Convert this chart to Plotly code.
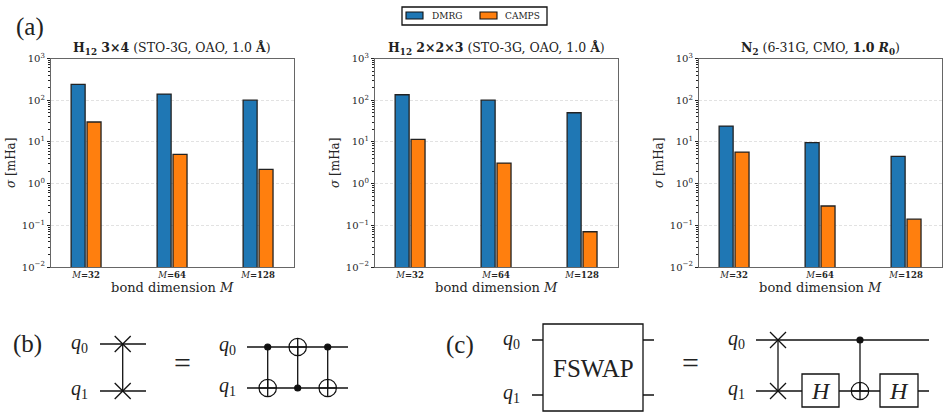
import plotly.graph_objects as go

W, H = 948, 419

bond_labels = ["<i>M</i><b>=32</b>", "<i>M</i><b>=64</b>", "<i>M</i><b>=128</b>"]
dmrg_1 = [240, 140, 100]
camps_1 = [30, 5.0, 2.2]
dmrg_2 = [135, 100, 50]
camps_2 = [11.5, 3.1, 0.07]
dmrg_3 = [24, 9.6, 4.5]
camps_3 = [5.7, 0.29, 0.14]
titles = [
    "<b>H<sub>12</sub> 3×4</b> (STO-3G, OAO, 1.0 <b>Å</b>)",
    "<b>H<sub>12</sub> 2×2×3</b> (STO-3G, OAO, 1.0 <b>Å</b>)",
    "<b>N<sub>2</sub></b> (6-31G, CMO, <b>1.0</b> <b><i>R</i><sub>0</sub></b>)",
]
ytick_vals = [0.01, 0.1, 1, 10, 100, 1000]
ytick_text = ["10<sup>−2</sup>", "10<sup>−1</sup>", "10<sup>0</sup>", "10<sup>1</sup>", "10<sup>2</sup>", "10<sup>3</sup>"]

SERIF = "DejaVu Serif"
CM = "Liberation Serif"
INK = "#262626"
BLUE, ORANGE = "#1f77b4", "#ff7f0e"
panels = [(51, 293.5), (375, 617.5), (699, 941.5)]
TOP, BOTTOM = 58.5, 267

fig = go.Figure()
for i, (d, c) in enumerate([(dmrg_1, camps_1), (dmrg_2, camps_2), (dmrg_3, camps_3)]):
    sx = "" if i == 0 else str(i + 1)
    for name, vals, col in (("DMRG", d, BLUE), ("CAMPS", c, ORANGE)):
        fig.add_trace(go.Bar(
            x=bond_labels, y=vals, name=name, marker=dict(color=col, line=dict(color="#222222", width=1.3)),
            xaxis="x" + sx, yaxis="y" + sx, showlegend=False, offsetgroup=name,
        ))

layout = dict(
    width=W, height=H, margin=dict(l=0, r=0, t=0, b=0, autoexpand=False), paper_bgcolor="white", plot_bgcolor="white",
    barmode="group", bargap=0.63, bargroupgap=0.12, font=dict(family=SERIF, color=INK),
    showlegend=False,
)
for i, (l, r) in enumerate(panels):
    sx = "" if i == 0 else str(i + 1)
    layout["xaxis" + sx] = dict(
        domain=[l / W, r / W], anchor="y" + sx, type="category", range=[-0.408, 2.412],
        showline=True, mirror=True, linecolor="#666666", linewidth=1.3, ticks="",
        tickfont=dict(size=8.5, family=SERIF, color=INK),
        title=dict(text="bond dimension <i>M</i>", font=dict(size=13, family=SERIF, color=INK), standoff=1),
        showgrid=False,
    )
    layout["yaxis" + sx] = dict(
        domain=[1 - BOTTOM / H, 1 - TOP / H], anchor="x" + sx, type="log", range=[-2, 3],
        tickmode="array", tickvals=ytick_vals, ticktext=ytick_text,
        showline=True, mirror=True, linecolor="#666666", linewidth=1.3,
        ticks="outside", ticklen=3, tickcolor="#222222", tickwidth=1,
        tickfont=dict(size=10, family=SERIF, color=INK),
        showgrid=True, gridcolor="#e2e2e2", gridwidth=0.7, griddash="3px,2px", zeroline=False,
        minor=dict(ticks="outside", ticklen=1.5, tickcolor="#222222", tickwidth=0.7, dtick="D1", showgrid=False),
        title=dict(text="<i>σ</i> [mHa]", font=dict(size=12, family=SERIF, color=INK), standoff=3),
    )

# ----- pixel helpers for the titles, legend and circuit diagrams -----
def px(x):
    return x / W
def py(y):
    return 1 - y / H

shapes, ann = [], []
def line(x0, y0, x1, y1, w=1.3):
    shapes.append(dict(type="line", xref="paper", yref="paper", x0=px(x0), y0=py(y0), x1=px(x1), y1=py(y1),
                       line=dict(color="#111111", width=w)))
def box(x0, y0, x1, y1, fill="white", w=1.3):
    shapes.append(dict(type="rect", xref="paper", yref="paper", x0=px(x0), y0=py(y0), x1=px(x1), y1=py(y1),
                       fillcolor=fill, line=dict(color="#111111", width=w)))
def circ(x, y, r, fill):
    shapes.append(dict(type="circle", xref="paper", yref="paper", x0=px(x - r), y0=py(y + r), x1=px(x + r), y1=py(y - r),
                       fillcolor=fill, line=dict(color="#111111", width=1.2)))
def text(x, y, s, size, family=CM, color="#222222"):
    ann.append(dict(xref="paper", yref="paper", x=px(x), y=py(y), text=s, showarrow=False, xanchor="center",
                    yanchor="middle", font=dict(size=size, family=family, color=color)))
def cross(x, y, r=8):
    line(x - r, y - r, x + r, y + r)
    line(x - r, y + r, x + r, y - r)
def target(x, y, r=8.7):
    circ(x, y, r, "rgba(0,0,0,0)")
    line(x - r, y, x + r, y)
    line(x, y - r, x, y + r)
def control(x, y):
    circ(x, y, 3, "#111111")

# legend
box(402, 7, 547, 25)
box(406, 12, 423, 19, BLUE, 1.1); text(447, 15.5, "DMRG", 9, SERIF)
box(480, 12, 497, 19, ORANGE, 1.1); text(522, 15.5, "CAMPS", 9, SERIF)

for (l, r), t in zip(panels, titles):
    text((l + r) / 2, 49, t, 12.5, SERIF, "#222222")

text(29.5, 27, "(a)", 25)
text(27, 344, "(b)", 25)
text(460, 345, "(c)", 25)

# (b) swap
text(79, 343.5, "<i>q</i><sub>0</sub>", 20); text(79, 389, "<i>q</i><sub>1</sub>", 20)
line(100, 344, 146, 344); line(100, 391, 146, 391); line(122.7, 344, 122.7, 391)
cross(122.7, 344); cross(122.7, 391)
text(182, 362, "=", 30)

# (b) CNOT decomposition
text(227, 345, "<i>q</i><sub>0</sub>", 20); text(227, 386, "<i>q</i><sub>1</sub>", 20)
line(247, 347, 348, 347); line(247, 388, 348, 388)
line(267.7, 347, 267.7, 388); line(297.7, 347, 297.7, 388); line(327.7, 347, 327.7, 388)
control(267.7, 347); target(267.7, 388)
target(297.7, 347); control(297.7, 388)
control(327.7, 347); target(327.7, 388)

# (c) FSWAP box
text(512, 339, "<i>q</i><sub>0</sub>", 20); text(512, 393, "<i>q</i><sub>1</sub>", 20)
line(532, 340, 654, 340); line(532, 395, 654, 395)
box(543, 324, 643, 411)
text(593, 368, "FSWAP", 25)
text(690, 362, "=", 30)

# (c) decomposition
text(736, 339, "<i>q</i><sub>0</sub>", 20); text(736, 389, "<i>q</i><sub>1</sub>", 20)
line(756, 340, 929, 340); line(756, 391, 929, 391); line(778, 340, 778, 391)
cross(778, 340); cross(778, 391)
box(802, 374, 839, 407); text(820.5, 391, "<i>H</i>", 24)
line(860, 340, 860, 391); control(860, 340); target(860, 391)
box(880, 374, 918, 407); text(899, 391, "<i>H</i>", 24)

layout["shapes"] = shapes
layout["annotations"] = ann
fig.update_layout(**layout)
fig.write_html("out.html", config={"displayModeBar": False}, post_script="document.body.style.margin='0';")
